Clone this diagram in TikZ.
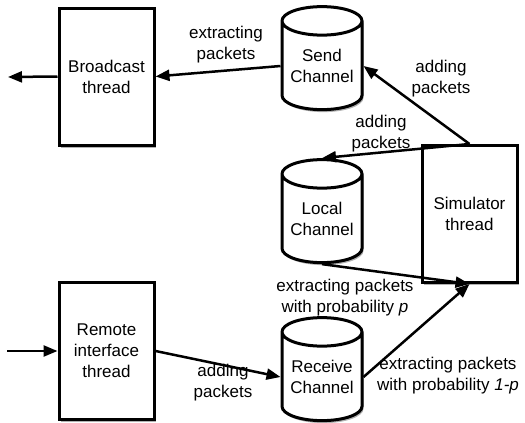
\documentclass[tikz,border=0pt]{standalone}
\usepackage{fontspec}
\setmainfont{Liberation Sans}
\usepackage{tikz}
\usetikzlibrary{arrows.meta,positioning,shapes.geometric,shadows}
\definecolor{cShadow}{HTML}{000000}
\tikzset{
  thread/.style={draw, line width=3pt, align=center, fill=white,
                 minimum width=95pt, minimum height=137pt, inner sep=0pt,
                 font=\fontsize{17}{21}\selectfont,
                 drop shadow={shadow xshift=1.5pt, shadow yshift=-2.5pt, fill=cShadow, opacity=.3}},
  chan/.style  ={draw, cylinder, shape border rotate=90, aspect=0.45, line width=3pt,
                 align=center, fill=white, minimum width=80pt, minimum height=103pt, inner sep=0pt,
                 font=\fontsize{17}{21}\selectfont,
                 drop shadow={shadow xshift=1.5pt, shadow yshift=-2.5pt, fill=cShadow, opacity=.3}},
  lbl/.style   ={align=center, inner sep=0pt, font=\fontsize{17}{21}\selectfont},
  arrow/.style ={-{Triangle[length=14pt,width=11pt]}, line width=2.5pt},
}
\begin{document}
\begin{tikzpicture}[x=1pt,y=-1pt]
    \useasboundingbox (0,0) rectangle (525,423);
    % threads
    \node[thread] (bcast)  at (106.5,76.5) {Broadcast\\thread};
    \node[thread] (remote) at (106.5,351)  {Remote\\interface\\thread};
    \node[thread] (sim)    at (469.5,214)  {Simulator\\thread};
    % channels
    \node[chan] (send)  at (322,66)  {Send\\Channel};
    \node[chan] (local) at (322,219) {Local\\Channel};
    \node[chan] (recv)  at (322,377) {Receive\\Channel};
    \coordinate (out) at (8,77);
    \coordinate (in)  at (7,351);
    % labels
    \node[lbl] (l1) at (226,45)  {extracting\\packets};
    \node[lbl] (l2) at (441,79)  {adding\\packets};
    \node[lbl] (l3) at (381,134) {adding\\packets};
    \node[lbl] (l4) at (345,298) {extracting packets\\with probability \textit{p}};
    \node[lbl] (l5) at (448,376) {extracting packets\\with probability \textit{1-p}};
    \node[lbl] (l6) at (223,383) {adding\\packets};
    % connectors
    \draw[arrow](send.west)--(bcast.east);\draw[arrow](bcast.west)--(out);
    \draw[arrow](sim.north)--(send.east);\draw[arrow](sim.north)--(local.north);
    \draw[arrow](local.south)--(sim.south);\draw[arrow](recv.east)--(sim.south);
    \draw[arrow](in)--(remote.west);\draw[arrow](remote.east)--(recv.west);
  \end{tikzpicture}
\end{document}
